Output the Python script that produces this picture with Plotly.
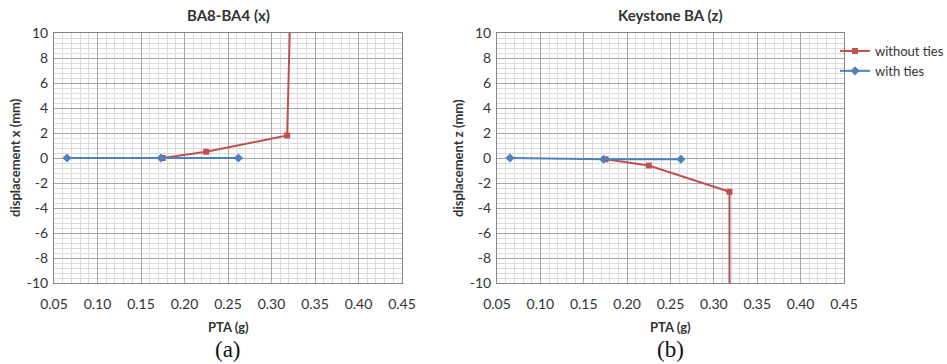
import plotly.graph_objects as go

# ---- data ----
x_without_a = [0.175, 0.225, 0.318, 0.330]
y_without_a = [0.0, 0.5, 1.8, 35.0]
x_with_a = [0.065, 0.173, 0.262]
y_with_a = [0.0, 0.0, 0.0]

x_without_b = [0.175, 0.225, 0.318, 0.318]
y_without_b = [-0.1, -0.6, -2.7, -40.0]
x_with_b = [0.065, 0.173, 0.262]
y_with_b = [0.0, -0.1, -0.1]

x_ticks = [0.05, 0.10, 0.15, 0.20, 0.25, 0.30, 0.35, 0.40, 0.45]
y_ticks = [-10, -8, -6, -4, -2, 0, 2, 4, 6, 8, 10]
y_tick_labels = ["-10", "-8", "-6", "-4", "-2", "0", "2", "4", "6", "8", "10"]

titles = ["BA8-BA4 (x)", "Keystone BA (z)"]
y_titles = ["displacement x (mm)", "displacement z (mm)"]
x_title = "PTA (g)"
panel_labels = ["(a)", "(b)"]

RED = "#c0504d"
BLUE = "#4f81bd"
FONT = "Lato"
TXT = "#333333"

fig = go.Figure()

def add_traces(xw, yw, xt, yt, xa, ya, show):
    fig.add_trace(go.Scatter(x=xw, y=yw, mode="lines+markers", name="without ties",
                             line=dict(color=RED, width=2),
                             marker=dict(symbol="square", size=6, color=RED),
                             xaxis=xa, yaxis=ya, showlegend=show))
    fig.add_trace(go.Scatter(x=xt, y=yt, mode="lines+markers", name="with ties",
                             line=dict(color=BLUE, width=2),
                             marker=dict(symbol="diamond", size=7, color=BLUE),
                             xaxis=xa, yaxis=ya, showlegend=show))

add_traces(x_without_a, y_without_a, x_with_a, y_with_a, "x", "y", True)
add_traces(x_without_b, y_without_b, x_with_b, y_with_b, "x2", "y2", False)

W, H = 947, 364
ydom = [1 - 283 / H, 1 - 33 / H]
xdoms = [[54 / W, 402 / W], [497 / W, 844 / W]]

def xaxis(dom, anchor):
    return dict(domain=dom, anchor=anchor, range=[0.05, 0.45], automargin=False,
                tickvals=x_ticks, ticktext=[f"{v:.2f}" for v in x_ticks],
                showgrid=True, gridcolor="#a6a6a6", gridwidth=1,
                minor=dict(dtick=0.01, tick0=0.05, showgrid=True, gridcolor="#dcdcdc", gridwidth=1),
                showline=True, linecolor="#868686", mirror=True, zeroline=False,
                ticks="", ticklabelstandoff=8,
                tickfont=dict(family=FONT, size=14, color=TXT))

def yaxis(anchor):
    return dict(domain=ydom, anchor=anchor, range=[-10, 10], automargin=False,
                tickvals=y_ticks, ticktext=y_tick_labels,
                showgrid=True, gridcolor="#a6a6a6", gridwidth=1,
                minor=dict(dtick=0.4, tick0=-10, showgrid=True, gridcolor="#dcdcdc", gridwidth=1),
                showline=True, linecolor="#868686", mirror=True, zeroline=False,
                ticks="", ticklabelstandoff=2,
                tickfont=dict(family=FONT, size=14, color=TXT))

annotations = []
centers = [(54 + 402) / 2 / W, (497 + 844) / 2 / W]
ytitle_x = [15 / W, 458 / W]

def ann(text, x, y, font, angle=0):
    return dict(text=text, x=x, y=y, xref="paper", yref="paper", showarrow=False,
                xanchor="center", yanchor="middle", textangle=angle, font=font)

for i in range(2):
    annotations.append(ann(f"<b>{titles[i]}</b>", centers[i], 1 - 15 / H,
                           dict(family=FONT, size=15, color=TXT)))
    annotations.append(ann(f"<b>{x_title}</b>", centers[i], 1 - 327 / H,
                           dict(family=FONT, size=13, color=TXT)))
    annotations.append(ann(f"<b>{y_titles[i]}</b>", ytitle_x[i], (ydom[0] + ydom[1]) / 2,
                           dict(family=FONT, size=13, color=TXT), -90))
    annotations.append(ann(panel_labels[i], centers[i], 1 - 349 / H,
                           dict(family="Liberation Serif", size=23, color="#111111")))

fig.update_layout(
    width=W, height=H,
    margin=dict(l=0, r=0, t=0, b=0, autoexpand=False),
    paper_bgcolor="white", plot_bgcolor="white",
    xaxis=xaxis(xdoms[0], "y"), yaxis=yaxis("x"),
    xaxis2=xaxis(xdoms[1], "y2"), yaxis2=yaxis("x2"),
    annotations=annotations,
    legend=dict(x=835 / W, y=1 - 36 / H, xanchor="left", yanchor="top",
                font=dict(family=FONT, size=13, color=TXT),
                itemwidth=30, tracegroupgap=2, bgcolor="rgba(0,0,0,0)"),
    showlegend=True,
)

fig.write_html("out.html", config={"displayModeBar": False},
               post_script="document.body.style.margin='0';document.body.style.overflow='hidden';")
